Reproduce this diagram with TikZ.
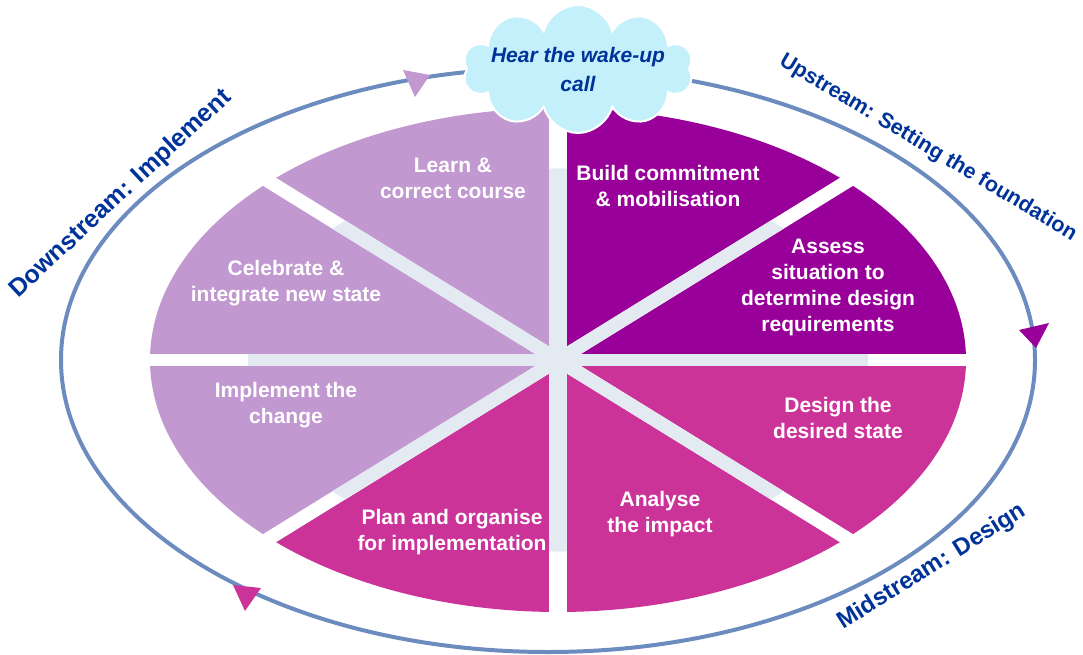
\documentclass[tikz,border=0pt]{standalone}
\usepackage{fontspec}
\setmainfont{Liberation Sans}
\usetikzlibrary{shapes.symbols,positioning}

\definecolor{lilac}{RGB}{193,152,207}
\definecolor{plum}{RGB}{153,0,153}
\definecolor{rose}{RGB}{204,51,153}
\definecolor{hub}{RGB}{228,234,242}
\definecolor{ringblue}{RGB}{108,140,191}
\definecolor{navy}{RGB}{0,51,153}
\definecolor{sky}{RGB}{196,240,251}

\tikzset{
  stage/.style={text=white, font=\fontsize{21}{26}\selectfont\bfseries, align=center},
  phase/.style={text=navy, font=\fontsize{24}{28}\selectfont\bfseries, inner sep=0},
}

\begin{document}
\begin{tikzpicture}[x=1pt, y=1pt]
    \useasboundingbox (0,0) rectangle (1083,-655);

    % Outer cycle
    \draw[ringblue, line width=4] (548,-360) ellipse [x radius=487, y radius=292];
    \fill[lilac] (403,-70) -- (430,-75) -- (415,-97) -- cycle;
    \fill[plum] (1019,-330) -- (1049,-323) -- (1036,-348) -- cycle;
    \fill[rose] (233,-585) -- (261,-588) -- (245,-611) -- cycle;

    % Pie of eight stages
    \begin{scope}[shift={(558,-360)}, xscale=408, yscale=252]
        \foreach \c [count=\i from 0] in {plum,plum,lilac,lilac,lilac,rose,rose,rose}
            \fill[\c] (0,0) -- (\i*45:1) arc[start angle=\i*45, end angle=\i*45+45, radius=1] -- cycle;
        \foreach \a in {0,45,90,135}
            \fill[white, rotate=\a] (-1.05,-0.0225) rectangle (1.05,0.0225);
        \begin{scope}
            \clip (0,0) circle [radius=0.76];
            \foreach \a in {0,45,90,135}
                \fill[hub, rotate=\a] (-1,-0.0225) rectangle (1,0.0225);
        \end{scope}
    \end{scope}

    \node[stage] (build) at (668,-186) {Build commitment\\\& mobilisation};
    \node[stage] (assess) at (828,-287) {Assess\\situation to\\determine design\\requirements};
    \node[stage] (design) at (838,-418) {Design the\\desired state};
    \node[stage] (analyse) at (660,-514) {Analyse\\the impact};
    \node[stage] (plan) at (452,-532) {Plan and organise\\for implementation};
    \node[stage] (implement) at (286,-405) {Implement the\\change};
    \node[stage] (celebrate) at (286,-283) {Celebrate \&\\integrate new state};
    \node[stage] (learn) at (453,-178) {Learn \&\\correct course};

    % Wake-up call
    \node[cloud, cloud puffs=10, aspect=1.8, fill=sky, draw=white, line width=2,
          minimum width=230, minimum height=128, inner sep=0] (wake) at (578,-69) {};
    \node[align=center, text=navy, font=\fontsize{21}{29}\selectfont\bfseries\itshape] (wakecall) at (wake) {Hear the wake-up\\call};

    % Phases
    \node[phase, rotate=43, font=\fontsize{25}{28}\selectfont\bfseries] (down) at (121,-194) {Downstream: Implement};
    \node[phase, rotate=-31, font=\fontsize{21.5}{26}\selectfont\bfseries] (up) at (928,-148) {Upstream: Setting the foundation};
    \node[phase, rotate=32] (mid) at (932,-567) {Midstream: Design};
\end{tikzpicture}
\end{document}
